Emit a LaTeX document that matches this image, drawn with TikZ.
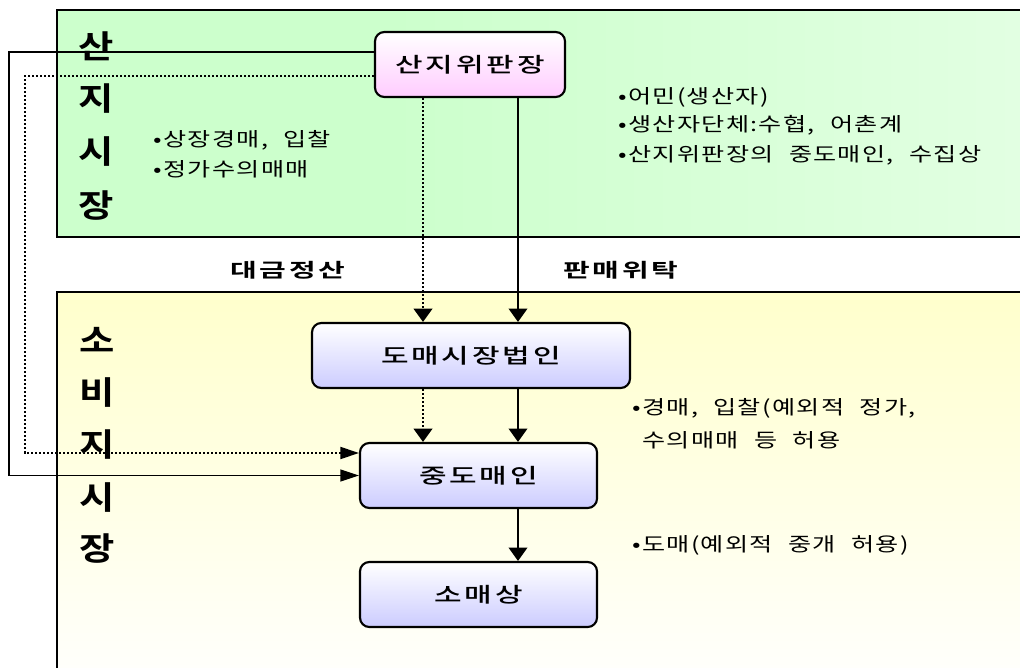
\documentclass[tikz,border=0pt]{standalone}
\usepackage{fontspec}
\usetikzlibrary{arrows.meta}
\newfontfamily\krtext[FakeStretch=1.3,LetterSpace=7,WordSpace=2.2]{Noto Sans CJK KR}
\newfontfamily\krnode[FakeStretch=1.45,LetterSpace=14]{Noto Sans CJK KR Medium}
\newfontfamily\krlab[FakeStretch=1.5,LetterSpace=14]{Noto Sans CJK KR Bold}
\newfontfamily\krbig[FakeStretch=1.2]{Noto Sans CJK KR Bold}
\definecolor{gA}{RGB}{204,255,204}
\definecolor{gB}{RGB}{244,255,244}
\definecolor{yA}{RGB}{255,255,204}
\definecolor{pk}{RGB}{255,204,255}
\definecolor{lv}{RGB}{204,204,255}
\pgfdeclarehorizontalshading{topsh}{100bp}{color(0bp)=(gA); color(42bp)=(gA); color(100bp)=(gB)}
\begin{document}
\begin{tikzpicture}[x=0.75pt,y=-0.75pt,
  box/.style={draw=black, line width=1.6pt, rounded corners=7pt,
    minimum height=48.75pt, inner sep=0pt, top color=white, bottom color=lv,
    font=\krnode\fontsize{15.5}{18}\selectfont},
  big/.style={inner sep=0pt, font=\krbig\fontsize{24}{26}\selectfont},
  txt/.style={inner sep=0pt, anchor=west, font=\krtext\fontsize{14.5}{16}\selectfont},
  lab/.style={inner sep=0pt, anchor=west, font=\krlab\fontsize{14.5}{16}\selectfont},
  conn/.style={line width=1.1pt},
  dots/.style={line width=1.6pt, dash pattern=on 1.6pt off 1.4pt},
  vtip/.style={-{Triangle[length=10pt,width=14pt]}},
  htip/.style={-{Triangle[length=14pt,width=9pt]}}]
\useasboundingbox (0,0) rectangle (1020,667);
\clip (0,0) rectangle (1020,667);
\fill[white] (0,0) rectangle (1020,667);
% market areas
\draw[line width=1.6pt, shading=topsh] (57,10) rectangle (1040,237);
\draw[line width=1.6pt, top color=yA, bottom color=white] (57,292) rectangle (1040,700);
% nodes
\node[box, top color=white, bottom color=pk, minimum width=142.5pt] (pj) at (470,64.5) {산지위판장};
\node[box, minimum width=238.5pt] (wh) at (471,355.5) {도매시장법인};
\node[box, minimum width=177.75pt] (mid) at (478.5,475.5) {중도매인};
\node[box, minimum width=177.75pt] (ret) at (478.5,594.5) {소매상};
% connectors
\draw[dots, vtip] (pj.south -| 423,0) -- (wh.north -| 423,0);
\draw[conn, vtip] (pj.south -| 518,0) -- (wh.north -| 518,0);
\draw[dots, vtip] (wh.south -| 423,0) -- (mid.north -| 423,0);
\draw[conn, vtip] (wh.south -| 518,0) -- (mid.north -| 518,0);
\draw[conn, vtip] (mid.south -| 518,0) -- (ret.north -| 518,0);
\draw[conn, htip] (pj.west |- 0,52) -- (9,52) -- (9,475.5) -- (mid.west);
\draw[dots, htip] (pj.west |- 0,76) -- (25,76) -- (25,453) -- (mid.west |- 0,453);
% vertical labels
\node[big] (a1) at (96,46.5) {산};
\node[big] (a2) at (96,98.5) {지};
\node[big] (a3) at (96,151.5) {시};
\node[big] (a4) at (96,206) {장};
\node[big] (b1) at (97,340) {소};
\node[big] (b2) at (97,393) {비};
\node[big] (b3) at (97,445) {지};
\node[big] (b4) at (97,498) {시};
\node[big] (b5) at (97,549) {장};
% texts
\node[txt] (t1) at (153,140) {•상장경매, 입찰};
\node[txt] (t2) at (153,169) {•정가수의매매};
\node[txt] (t3) at (618,97) {•어민(생산자)};
\node[txt] (t4) at (618,125) {•생산자단체:수협, 어촌계};
\node[txt] (t5) at (618,155) {•산지위판장의 중도매인, 수집상};
\node[lab] (l1) at (230,270) {대금정산};
\node[lab] (l2) at (563,270) {판매위탁};
\node[txt] (t6) at (632,408) {•경매, 입찰(예외적 정가,};
\node[txt] (t7) at (642,440) {수의매매 등 허용};
\node[txt] (t8) at (632,545) {•도매(예외적 중개 허용)};
\end{tikzpicture}
\end{document}
